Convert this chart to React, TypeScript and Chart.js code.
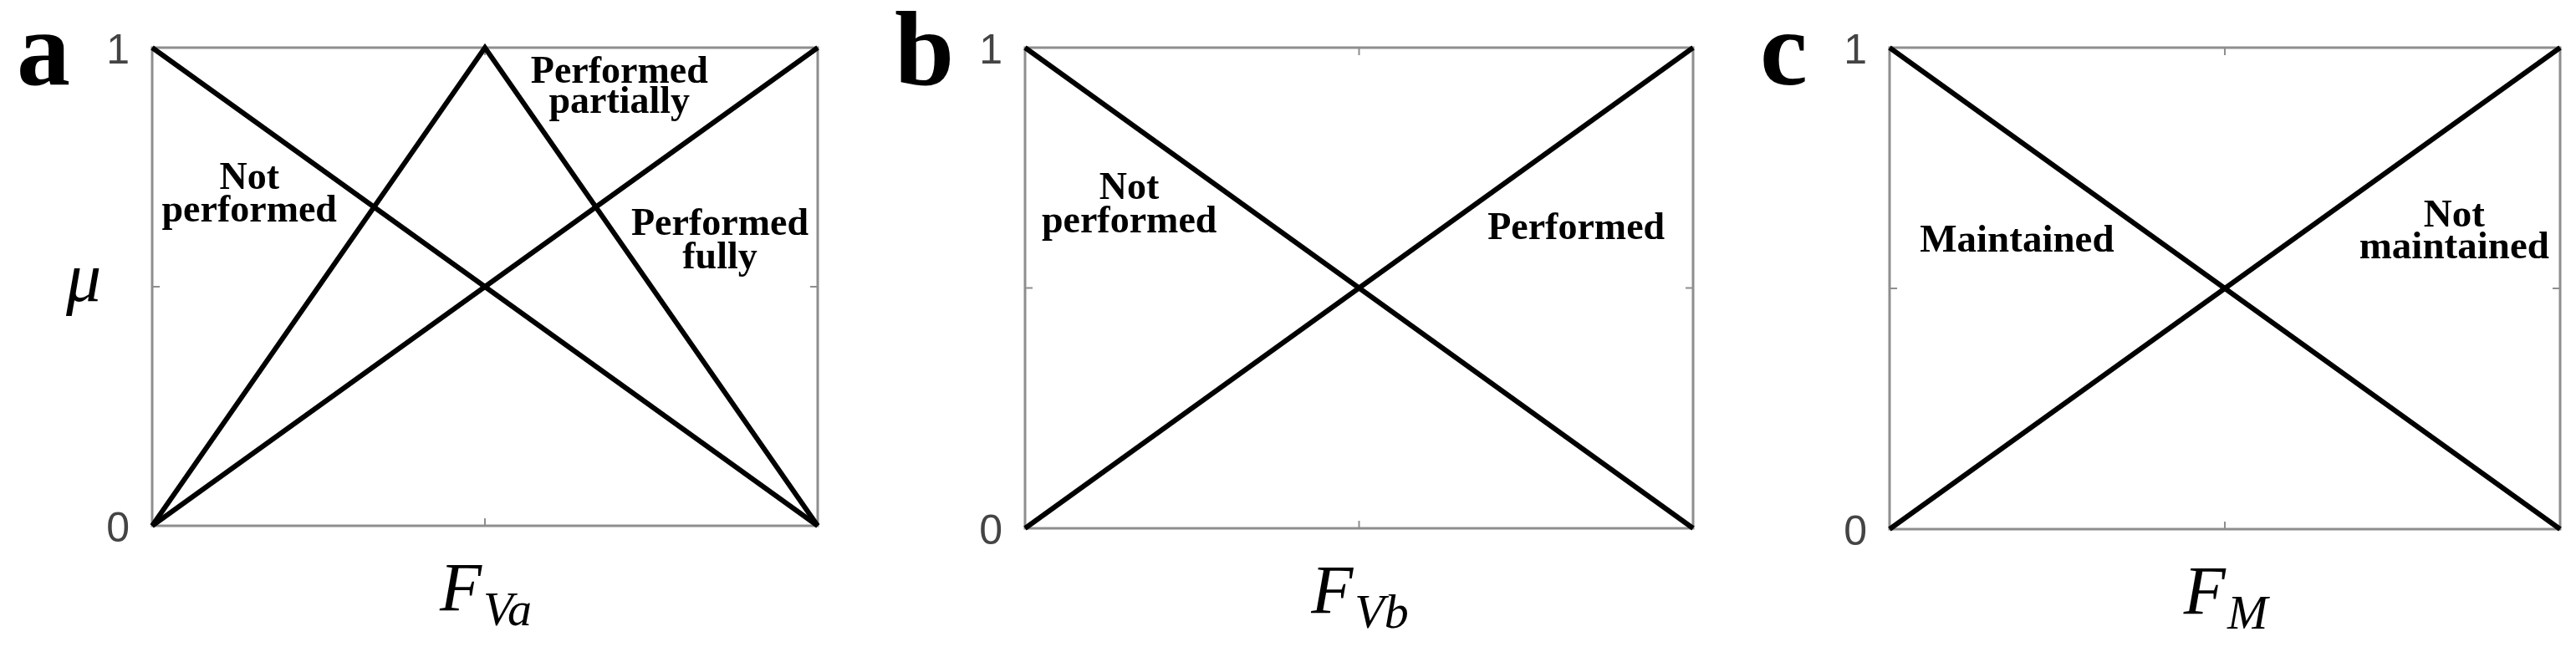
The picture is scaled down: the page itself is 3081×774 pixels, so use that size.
import React, { useEffect, useRef } from "react";
import { Chart, registerables } from "chart.js";

Chart.register(...registerables);

// ---- Data (membership functions) ----
// Panel a: F_Va
const fvaX = [0, 0.5, 1];
const fvaNotPerformed = [1, 0.5, 0];
const fvaPerformedPartially = [0, 1, 0];
const fvaPerformedFully = [0, 0.5, 1];

// Panel b: F_Vb
const fvbX = [0, 1];
const fvbNotPerformed = [1, 0];
const fvbPerformed = [0, 1];

// Panel c: F_M
const fmX = [0, 1];
const fmMaintained = [1, 0];
const fmNotMaintained = [0, 1];

// Axis ticks
const yTickValues = [0, 0.5, 1];
const yTickLabels = ["0", "", "1"];

type Note = { lines: string[]; x: number; ys: number[]; size: number };

type PanelCfg = {
  key: string;
  letter: string;
  left: number;
  width: number;
  axisWidth: number;
  padTop: number;
  padRight: number;
  padBottom: number;
  letterDx: number;
  xLabelMain: string;
  xLabelSub: string;
  showMu: boolean;
  series: { x: number[]; y: number[] }[];
  notes: Note[];
};

const panels: PanelCfg[] = [
  {
    key: "a",
    letter: "a",
    left: 0,
    width: 1050,
    axisWidth: 182,
    padTop: 52,
    padRight: 72,
    padBottom: 145,
    letterDx: -162,
    xLabelMain: "F",
    xLabelSub: "Va",
    showMu: true,
    series: [
      { x: fvaX, y: fvaNotPerformed },
      { x: fvaX, y: fvaPerformedPartially },
      { x: fvaX, y: fvaPerformedFully },
    ],
    notes: [
      { lines: ["Not", "performed"], x: 0.146, ys: [0.705, 0.636], size: 46 },
      { lines: ["Performed", "partially"], x: 0.702, ys: [0.927, 0.863], size: 46 },
      { lines: ["Performed", "fully"], x: 0.853, ys: [0.608, 0.539], size: 46 },
    ],
  },
  {
    key: "b",
    letter: "b",
    left: 1050,
    width: 1050,
    axisWidth: 176,
    padTop: 49,
    padRight: 75,
    padBottom: 142,
    letterDx: -156,
    xLabelMain: "F",
    xLabelSub: "Vb",
    showMu: false,
    series: [
      { x: fvbX, y: fvbNotPerformed },
      { x: fvbX, y: fvbPerformed },
    ],
    notes: [
      { lines: ["Not", "performed"], x: 0.156, ys: [0.686, 0.616], size: 46 },
      { lines: ["Performed"], x: 0.825, ys: [0.602], size: 46 },
    ],
  },
  {
    key: "c",
    letter: "c",
    left: 2080,
    width: 1001,
    axisWidth: 180,
    padTop: 49,
    padRight: 19,
    padBottom: 141,
    letterDx: -155,
    xLabelMain: "F",
    xLabelSub: "M",
    showMu: false,
    series: [
      { x: fmX, y: fmMaintained },
      { x: fmX, y: fmNotMaintained },
    ],
    notes: [
      { lines: ["Maintained"], x: 0.19, ys: [0.577], size: 47 },
      { lines: ["Not", "maintained"], x: 0.842, ys: [0.628, 0.562], size: 47 },
    ],
  },
];

const FRAME_COLOR = "#8e8e8e";

function makeDecorPlugin(cfg: PanelCfg) {
  return {
    id: "decor_" + cfg.key,
    beforeDatasetsDraw(chart: any) {
      const { ctx, chartArea } = chart;
      const xs = chart.scales.x;
      const ys = chart.scales.y;
      const { left, right, top, bottom } = chartArea;
      ctx.save();
      ctx.strokeStyle = FRAME_COLOR;
      ctx.lineWidth = 3;
      ctx.strokeRect(left, top, right - left, bottom - top);
      const xm = xs.getPixelForValue(0.5);
      const ym = ys.getPixelForValue(0.5);
      const tl = 9;
      ctx.lineWidth = 2;
      ctx.beginPath();
      ctx.moveTo(xm, bottom);
      ctx.lineTo(xm, bottom - tl);
      ctx.moveTo(xm, top);
      ctx.lineTo(xm, top + tl);
      ctx.moveTo(left, ym);
      ctx.lineTo(left + tl, ym);
      ctx.moveTo(right, ym);
      ctx.lineTo(right - tl, ym);
      ctx.stroke();
      ctx.restore();
    },
    afterDraw(chart: any) {
      const { ctx, chartArea } = chart;
      const xs = chart.scales.x;
      const ys = chart.scales.y;
      const { left, right, bottom } = chartArea;
      ctx.save();
      ctx.fillStyle = "#000";
      ctx.textBaseline = "alphabetic";

      // annotations
      ctx.textAlign = "center";
      for (const n of cfg.notes) {
        ctx.font = `bold ${n.size}px "Liberation Serif", "Times New Roman", serif`;
        n.lines.forEach((line, i) => {
          ctx.fillText(line, xs.getPixelForValue(n.x), ys.getPixelForValue(n.ys[i]));
        });
      }

      // x axis label with subscript
      const mainFont = `italic 82px "Liberation Serif", serif`;
      const subFont = `italic 58px "Liberation Serif", serif`;
      ctx.font = mainFont;
      const wMain = ctx.measureText(cfg.xLabelMain).width;
      ctx.font = subFont;
      const wSub = ctx.measureText(cfg.xLabelSub).width;
      const cx = (left + right) / 2;
      const startX = cx - (wMain + wSub) / 2;
      const base = bottom + 101;
      ctx.textAlign = "left";
      ctx.font = mainFont;
      ctx.fillText(cfg.xLabelMain, startX, base);
      ctx.font = subFont;
      ctx.fillText(cfg.xLabelSub, startX + wMain + 2, base + 18);

      // y axis label mu
      if (cfg.showMu) {
        ctx.textAlign = "center";
        ctx.font = `italic 84px "Liberation Serif", serif`;
        ctx.fillText("\u03BC", left - 82, ys.getPixelForValue(0.5) + 17);
      }

      // panel letter
      ctx.textAlign = "left";
      ctx.font = `bold 128px "Liberation Serif", "Times New Roman", serif`;
      ctx.fillText(cfg.letter, left + cfg.letterDx, 101);
      ctx.restore();
    },
  };
}

function Panel({ cfg }: { cfg: PanelCfg }) {
  const ref = useRef<HTMLCanvasElement | null>(null);
  useEffect(() => {
    if (!ref.current) return;
    const chart = new Chart(ref.current, {
      type: "line",
      data: {
        datasets: cfg.series.map((s) => ({
          data: s.x.map((x, i) => ({ x, y: s.y[i] })),
          borderColor: "#000",
          borderWidth: 6,
          pointRadius: 0,
          fill: false,
          tension: 0,
          clip: false as any,
        })),
      },
      options: {
        responsive: false,
        animation: false,
        devicePixelRatio: 1,
        events: [],
        layout: {
          padding: { left: 0, top: cfg.padTop, right: cfg.padRight, bottom: cfg.padBottom },
        },
        plugins: {
          legend: { display: false },
          tooltip: { enabled: false },
        },
        scales: {
          x: { type: "linear", min: 0, max: 1, display: false },
          y: {
            type: "linear",
            min: 0,
            max: 1,
            afterFit: (s: any) => {
              s.width = cfg.axisWidth;
            },
            afterBuildTicks: (s: any) => {
              s.ticks = yTickValues.map((v) => ({ value: v }));
            },
            grid: { display: false, drawTicks: false },
            border: { display: false },
            ticks: {
              callback: (_v: any, i: number) => yTickLabels[i],
              font: { family: '"Liberation Sans", Arial, sans-serif', size: 50 },
              color: "#444",
              padding: 27,
              labelOffset: 5,
            },
          },
        },
      } as any,
      plugins: [makeDecorPlugin(cfg)],
    });
    return () => chart.destroy();
  }, [cfg]);
  return (
    <canvas
      ref={ref}
      width={cfg.width}
      height={774}
      style={{ position: "absolute", left: cfg.left, top: 0, width: cfg.width, height: 774 }}
    />
  );
}

export default function App() {
  return (
    <div
      style={{
        position: "absolute",
        left: 0,
        top: 0,
        width: 3081,
        height: 774,
        background: "#fff",
        overflow: "hidden",
      }}
    >
      {panels.map((p) => (
        <Panel key={p.key} cfg={p} />
      ))}
    </div>
  );
}
